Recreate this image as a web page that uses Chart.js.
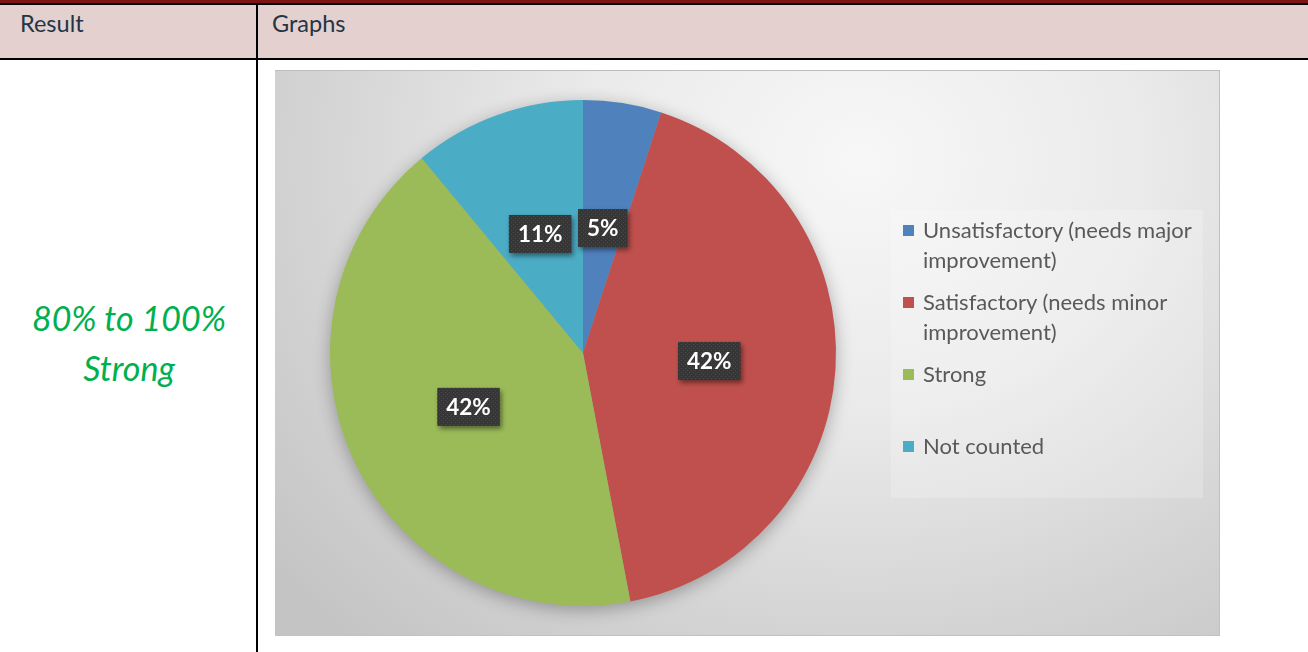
<!DOCTYPE html>
<html>
<head>
<meta charset="utf-8">
<script src="https://cdn.jsdelivr.net/npm/chart.js@4/dist/chart.umd.min.js"></script>
<style>
  html, body { margin: 0; padding: 0; background: #fff; width: 1308px; height: 652px; overflow: hidden; }
  body { position: relative; font-family: Lato, "Open Sans", sans-serif; }
  .topbar { position: absolute; left: 0; top: 0; width: 1308px; height: 3px; background: #7e1315; }
  .topline { position: absolute; left: 0; top: 3px; width: 1308px; height: 2px; background: #000; }
  .head { position: absolute; left: 0; top: 5px; width: 1308px; height: 53px; background: #e4d0cf; }
  .headline { position: absolute; left: 0; top: 58px; width: 1308px; height: 2px; background: #000; }
  .vline { position: absolute; left: 256px; top: 5px; width: 2px; height: 647px; background: #000; }
  .htext { position: absolute; top: 9px; font-size: 23.5px; color: #233544; }
  .result { position: absolute; left: 0; width: 258px; text-align: center; color: #00b050;
            font-style: italic; font-size: 34px; line-height: 50px; top: 293px; }
  .panel { position: absolute; left: 275px; top: 70px; width: 945px; height: 566px;
           background: radial-gradient(ellipse 80% 115% at 62% 16%, #f7f7f7 0%, #eaeaea 38%, #d4d4d4 72%, #c4c4c4 100%);
           box-shadow: inset 0 1px 0 #bdbdbd, inset -1px 0 0 #c0c0c0, inset 0 -1px 0 #c2c2c2; }
  .panel canvas { position: absolute; left: 0; top: 0; }
  .legend { position: absolute; left: 616px; top: 140px; width: 312px; height: 288px;
            background: rgba(255,255,255,0.2); }
  .legend .item { position: relative; height: 72px; padding-left: 32px; padding-right: 2px; box-sizing: border-box;
                  font-size: 22px; line-height: 29.5px; color: #595959; }
  .legend .sw { position: absolute; left: 12px; top: 10px; width: 11px; height: 11px; }
  .legend .first { margin-top: 5px; }
</style>
</head>
<body>
<div class="topbar"></div>
<div class="topline"></div>
<div class="head"></div>
<div class="headline"></div>
<div class="vline"></div>
<div class="htext" style="left:20px">Result</div>
<div class="htext" style="left:272px">Graphs</div>
<div class="result">80% to 100%<br>Strong</div>

<div class="panel">
  <canvas id="pie" width="945" height="566"></canvas>
  <div class="legend" id="legend"></div>
</div>

<script>
// Rating categories and their share of responses (percent)
const categories = [
  'Unsatisfactory (needs major improvement)',
  'Satisfactory (needs minor improvement)',
  'Strong',
  'Not counted'
];
const shares = [5, 42, 42, 11];
const sliceColors = ['#4f81bd', '#c0504d', '#9bbb59', '#4bacc6'];

// Legend built from the category and colour arrays
const legendEl = document.getElementById('legend');
categories.forEach((name, i) => {
  const item = document.createElement('div');
  item.className = 'item' + (i === 0 ? ' first' : '');
  const sw = document.createElement('span');
  sw.className = 'sw';
  sw.style.background = sliceColors[i];
  item.appendChild(sw);
  item.appendChild(document.createTextNode(name));
  legendEl.appendChild(item);
});

// Dotted dark fill used behind the percentage labels
function dotPattern(ctx) {
  const c = document.createElement('canvas');
  c.width = 4; c.height = 4;
  const p = c.getContext('2d');
  p.fillStyle = '#363636';
  p.fillRect(0, 0, 4, 4);
  p.fillStyle = '#4a4a4a';
  p.fillRect(0, 0, 1, 1);
  p.fillRect(2, 2, 1, 1);
  return ctx.createPattern(c, 'repeat');
}

// Soft drop shadow underneath the whole pie
const pieShadow = {
  id: 'pieShadow',
  beforeDatasetsDraw(chart) {
    const arc = chart.getDatasetMeta(0).data[0];
    if (!arc) return;
    const { x, y, outerRadius } = arc.getProps(['x', 'y', 'outerRadius'], true);
    const ctx = chart.ctx;
    ctx.save();
    ctx.shadowColor = 'rgba(0,0,0,0.32)';
    ctx.shadowBlur = 18;
    ctx.shadowOffsetY = 4;
    ctx.fillStyle = '#9a9a9a';
    ctx.beginPath();
    ctx.arc(x, y, outerRadius - 1, 0, Math.PI * 2);
    ctx.fill();
    ctx.restore();
  }
};

// Percentage callouts at the middle of each slice
const sliceLabels = {
  id: 'sliceLabels',
  afterDatasetsDraw(chart) {
    const ctx = chart.ctx;
    const meta = chart.getDatasetMeta(0);
    const fill = dotPattern(ctx);
    ctx.save();
    ctx.font = 'bold 22.5px Lato, "Open Sans", sans-serif';
    ctx.textAlign = 'center';
    ctx.textBaseline = 'middle';
    meta.data.forEach((arc, i) => {
      const pos = arc.tooltipPosition(true);
      const text = chart.data.datasets[0].data[i] + '%';
      const w = ctx.measureText(text).width + 18;
      const h = 38;
      ctx.save();
      ctx.shadowColor = 'rgba(0,0,0,0.45)';
      ctx.shadowBlur = 5;
      ctx.shadowOffsetX = 2;
      ctx.shadowOffsetY = 3;
      ctx.fillStyle = fill;
      ctx.fillRect(pos.x - w / 2, pos.y - h / 2, w, h);
      ctx.restore();
      ctx.fillStyle = '#ffffff';
      ctx.fillText(text, pos.x, pos.y + 1);
    });
    ctx.restore();
  }
};

new Chart(document.getElementById('pie'), {
  type: 'pie',
  data: {
    labels: categories,
    datasets: [{
      data: shares,
      backgroundColor: sliceColors,
      borderWidth: 0,
      hoverOffset: 0
    }]
  },
  options: {
    responsive: false,
    animation: false,
    events: [],
    layout: { padding: { left: 55, right: 384, top: 30, bottom: 30 } },
    plugins: {
      legend: { display: false },
      tooltip: { enabled: false }
    }
  },
  plugins: [pieShadow, sliceLabels]
});
</script>
</body>
</html>
